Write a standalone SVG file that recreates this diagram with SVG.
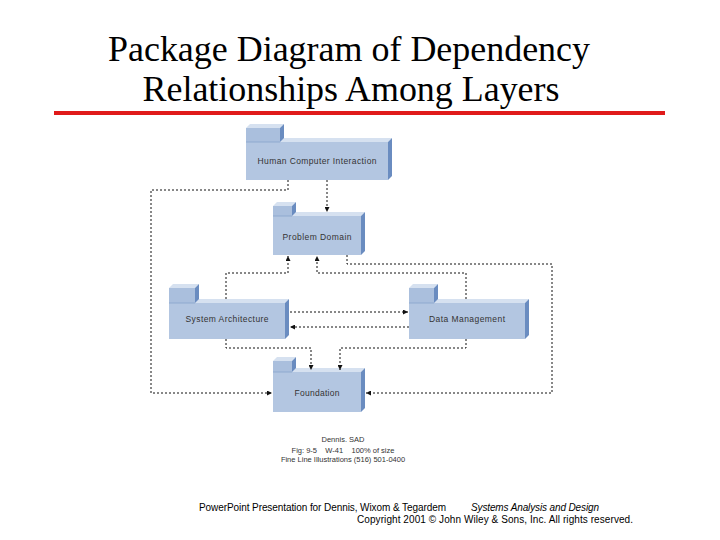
<svg xmlns="http://www.w3.org/2000/svg" width="720" height="540" viewBox="0 0 720 540">
<defs>
<marker id="ah" viewBox="0 0 6 6" refX="6" refY="3" markerWidth="5" markerHeight="5" orient="auto" markerUnits="userSpaceOnUse">
<path d="M0,0 L6,3 L0,6 z" fill="#111"/>
</marker>
<style>
.title{font-family:"Liberation Serif","Times New Roman",serif;font-size:35px;fill:#000}
.front{fill:#b3c6e1}
.tabf{fill:#aabfdd}
.top{fill:#d6e1f0}
.side{fill:#6a8cc0}
.lbl{font-family:"Liberation Sans",Arial,sans-serif;font-size:8.5px;fill:#333;text-anchor:middle}
.cap{font-family:"Liberation Sans",Arial,sans-serif;font-size:7.5px;fill:#333;text-anchor:middle}
.foot{font-family:"Liberation Sans",Tahoma,sans-serif;font-size:10px;fill:#000}
.con{fill:none;stroke:#111;stroke-width:1;stroke-dasharray:2,2;marker-end:url(#ah)}
</style>
</defs>
<rect width="720" height="540" fill="#fff"/>
<g id="title">
<text class="title" x="349" y="61" text-anchor="middle" textLength="482" lengthAdjust="spacingAndGlyphs">Package Diagram of Dependency</text>
<text class="title" x="351" y="101" text-anchor="middle" textLength="417" lengthAdjust="spacingAndGlyphs">Relationships Among Layers</text>
<rect x="54" y="111" width="611" height="4" fill="#e01a1a"/>
</g>

<g id="hci">
<polygon class="top" points="246,142 250,138 392,138 388,142"/>
<polygon class="side" points="388,142 392,138 392,176 388,180"/>
<rect class="front" x="246" y="142" width="142" height="38"/>
<polygon class="top" points="246,128 250,124 284,124 280,128"/>
<polygon class="side" points="280,128 284,124 284,138 280,142"/>
<rect class="tabf" x="246" y="128" width="34" height="14"/>
<line x1="246" y1="142" x2="280" y2="142" stroke="#8fa9cf" stroke-width="1"/>
<text class="lbl" x="317" y="164" textLength="119">Human Computer Interaction</text>
</g>

<g id="pd">
<polygon class="top" points="273,216 277,212 365,212 361,216"/>
<polygon class="side" points="361,216 365,212 365,251 361,255"/>
<rect class="front" x="273" y="216" width="88" height="39"/>
<polygon class="top" points="273,206 277,202 296,202 292,206"/>
<polygon class="side" points="292,206 296,202 296,212 292,216"/>
<rect class="tabf" x="273" y="206" width="19" height="10"/>
<line x1="273" y1="216" x2="292" y2="216" stroke="#8fa9cf" stroke-width="1"/>
<text class="lbl" x="317" y="240" textLength="69">Problem Domain</text>
</g>

<g id="sa">
<polygon class="top" points="169,303 173,299 289,299 285,303"/>
<polygon class="side" points="285,303 289,299 289,335 285,339"/>
<rect class="front" x="169" y="303" width="116" height="36"/>
<polygon class="top" points="169,288 173,284 199,284 195,288"/>
<polygon class="side" points="195,288 199,284 199,299 195,303"/>
<rect class="tabf" x="169" y="288" width="26" height="15"/>
<line x1="169" y1="303" x2="195" y2="303" stroke="#8fa9cf" stroke-width="1"/>
<text class="lbl" x="227" y="322" textLength="83">System Architecture</text>
</g>

<g id="dm">
<polygon class="top" points="409,303 413,299 529,299 525,303"/>
<polygon class="side" points="525,303 529,299 529,335 525,339"/>
<rect class="front" x="409" y="303" width="116" height="36"/>
<polygon class="top" points="409,288 413,284 438,284 434,288"/>
<polygon class="side" points="434,288 438,284 438,299 434,303"/>
<rect class="tabf" x="409" y="288" width="25" height="15"/>
<line x1="409" y1="303" x2="434" y2="303" stroke="#8fa9cf" stroke-width="1"/>
<text class="lbl" x="467" y="322" textLength="76">Data Management</text>
</g>

<g id="foundation">
<polygon class="top" points="273,372 277,368 365,368 361,372"/>
<polygon class="side" points="361,372 365,368 365,408 361,412"/>
<rect class="front" x="273" y="372" width="88" height="40"/>
<polygon class="top" points="273,361 277,357 296,357 292,361"/>
<polygon class="side" points="292,361 296,357 296,368 292,372"/>
<rect class="tabf" x="273" y="361" width="19" height="11"/>
<line x1="273" y1="372" x2="292" y2="372" stroke="#8fa9cf" stroke-width="1"/>
<text class="lbl" x="317" y="396" textLength="45">Foundation</text>
</g>

<g id="connectors">
<path class="con" d="M327,180 V212"/>
<path class="con" d="M288,180 V190 H151 V393 H272"/>
<path class="con" d="M226,299 V273 H288 V256"/>
<path class="con" d="M466,299 V273 H317 V256"/>
<path class="con" d="M347,255 V264 H552 V393 H366"/>
<path class="con" d="M290,312 H408"/>
<path class="con" d="M409,327 H290"/>
<path class="con" d="M226,339 V348 H311 V370"/>
<path class="con" d="M466,339 V348 H340 V370"/>
</g>

<g id="caption">
<text class="cap" x="343" y="442">Dennis. SAD</text>
<text class="cap" x="343" y="453" xml:space="preserve">Fig: 9-5    W-41    100% of size</text>
<text class="cap" x="343" y="462">Fine Line Illustrations (516) 501-0400</text>
</g>

<g id="footer">
<text class="foot" x="199" y="511" textLength="247">PowerPoint Presentation for Dennis, Wixom &amp; Tegardem</text>
<text class="foot" x="471" y="511" font-style="italic" textLength="128">Systems Analysis and Design</text>
<text class="foot" x="357" y="523" textLength="276">Copyright 2001 © John Wiley &amp; Sons, Inc.  All rights reserved.</text>
</g>
</svg>
